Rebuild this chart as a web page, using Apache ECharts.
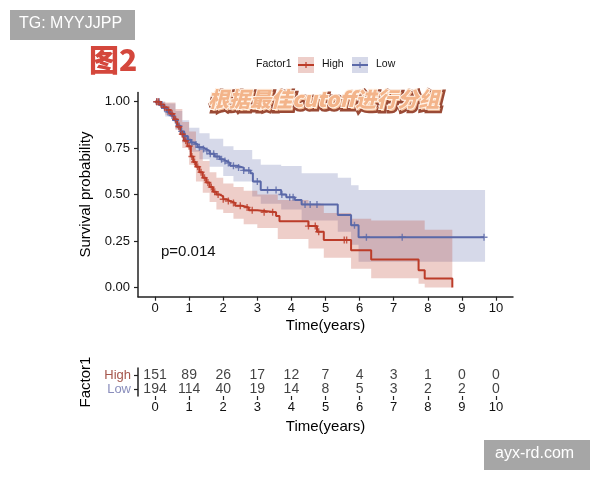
<!DOCTYPE html>
<html><head><meta charset="utf-8">
<script src="https://cdn.jsdelivr.net/npm/echarts@6/dist/echarts.min.js"></script>
<style>html,body{margin:0;padding:0;background:#fff}#c{width:600px;height:480px}</style>
</head><body><div id="c"></div>
<script>
const xTicks = [0,1,2,3,4,5,6,7,8,9,10];
const yTicks = [0, 0.25, 0.5, 0.75, 1.0];
const groups = ['Low', 'High'];

const highTime = [0,0.15,0.25,0.35,0.45,0.55,0.65,0.75,0.85,0.95,1.05,1.12,1.2,1.3,1.4,1.5,1.6,1.7,1.8,1.9,2.0,2.1,2.2,2.35,2.55,2.75,3.0,3.55,3.65,4.5,4.75,4.95,5.75,6.34,7.73,7.91,8.72];
const highSurv = [1.0,0.985,0.97,0.955,0.935,0.905,0.865,0.825,0.79,0.76,0.705,0.675,0.65,0.62,0.59,0.565,0.54,0.515,0.5,0.49,0.475,0.465,0.455,0.44,0.43,0.415,0.405,0.385,0.356,0.33,0.30,0.255,0.20,0.15,0.093,0.048,0.0];

const lowTime = [0,0.15,0.25,0.35,0.45,0.55,0.65,0.75,0.85,0.95,1.05,1.15,1.25,1.4,1.5,1.6,1.75,1.9,2.0,2.1,2.2,2.4,2.6,2.8,2.87,3.1,3.7,3.85,4.1,4.3,5.36,5.75,5.97,9.65];
const lowSurv = [1.0,0.98,0.965,0.945,0.925,0.9,0.87,0.84,0.815,0.795,0.78,0.77,0.755,0.745,0.735,0.72,0.705,0.69,0.68,0.67,0.655,0.645,0.63,0.615,0.57,0.525,0.50,0.485,0.47,0.447,0.39,0.335,0.27,0.27];

const highBandTime = [0,0.3,0.6,0.8,1.0,1.2,1.4,1.6,1.8,2.0,2.3,2.6,3.0,3.6,4.5,4.95,5.75,6.34,7.73,7.91,8.72];
const highLower = [0.985,0.93,0.85,0.75,0.66,0.57,0.51,0.46,0.42,0.40,0.37,0.34,0.32,0.26,0.21,0.16,0.10,0.05,0.02,0.0,0.0];
const highUpper = [1.0,0.995,0.96,0.89,0.84,0.74,0.68,0.62,0.59,0.56,0.54,0.52,0.50,0.47,0.45,0.40,0.37,0.36,0.36,0.31,0.31];

const lowBandTime = [0,0.3,0.6,0.8,1.0,1.3,1.6,2.0,2.3,2.85,3.1,3.7,4.3,5.36,5.75,5.97,9.68];
const lowLower = [0.985,0.92,0.85,0.78,0.73,0.69,0.65,0.60,0.57,0.49,0.45,0.42,0.36,0.30,0.23,0.138,0.138];
const lowUpper = [1.0,0.99,0.95,0.90,0.86,0.83,0.80,0.76,0.74,0.69,0.66,0.654,0.615,0.59,0.55,0.524,0.524];

const highCensor = [0.05,0.1,0.18,0.28,0.4,0.5,0.6,0.7,0.8,0.9,1.0,1.08,1.16,1.25,1.35,1.45,1.55,1.65,1.75,1.85,2.0,2.15,2.3,2.5,2.7,2.85,3.2,3.45,4.5,4.7,4.8,5.55,5.62];
const lowCensor = [0.05,0.12,0.2,0.28,0.38,0.5,0.6,0.7,0.78,0.88,0.98,1.08,1.2,1.3,1.42,1.52,1.62,1.72,1.82,1.95,2.05,2.15,2.3,2.45,2.6,2.75,3.0,3.3,3.55,3.72,3.95,4.05,4.4,4.55,4.75,5.85,6.2,7.25,9.65];

const riskTimes = [0,1,2,3,4,5,6,7,8,9,10];
const highRisk = [151,89,26,17,12,7,4,3,1,0,0];
const lowRisk = [194,114,40,19,14,8,5,3,2,2,0];

const highColor = '#BC3C29';
const lowColor = '#5A68A8';

function pairs(t, v) { return t.map((x, i) => [x, v[i]]); }
function stepAt(t, T, S) { let s = S[0]; for (let i = 0; i < T.length; i++) { if (T[i] <= t) s = S[i]; } return s; }
const plusPath = 'path://M4,0h2v4h4v2h-4v4h-2v-4h-4v-2h4z';

function bandSeries(T, lo, up, color) {
  return {
    type: 'custom', xAxisIndex: 0, yAxisIndex: 0, silent: true, z: 1,
    data: T.map((t, i) => [t, lo[i], up[i]]),
    encode: {x: 0, y: [1, 2]},
    renderItem: function (params, api) {
      if (params.dataIndex !== 0) return null;
      const n = T.length;
      const pts = [];
      for (let i = 0; i < n; i++) {
        pts.push(api.coord([T[i], up[i]]));
        if (i < n - 1) pts.push(api.coord([T[i + 1], up[i]]));
      }
      for (let i = n - 1; i >= 0; i--) {
        if (i < n - 1) pts.push(api.coord([T[i + 1], lo[i]]));
        pts.push(api.coord([T[i], lo[i]]));
      }
      return {type: 'polygon', shape: {points: pts}, style: {fill: color, opacity: 0.25}};
    }
  };
}

const chart = echarts.init(document.getElementById('c'), null, {renderer: 'canvas'});
const axisCol = '#222';
const font = 'Liberation Sans, Arial, sans-serif';

function xAxisDef(grid, gap) {
  return {gridIndex: grid, type: 'value', min: -0.5, max: 10.5,
     name: 'Time(years)', nameLocation: 'middle', nameGap: gap,
     nameTextStyle: {fontSize: 15, color: '#000', fontFamily: font},
     axisLine: {onZero: false, lineStyle: {color: axisCol, width: 1.5}},
     axisTick: {show: true, length: 4, lineStyle: {color: axisCol, width: 1.2}, customValues: xTicks},
     axisLabel: {fontSize: 13, color: '#111', margin: 5, customValues: xTicks},
     splitLine: {show: false}};
}

const option = {
  animation: false,
  textStyle: {fontFamily: font},
  grid: [
    {left: 138, right: 87, top: 92.4, bottom: 183.3},
    {left: 138, right: 87, top: 368, bottom: 84}
  ],
  xAxis: [xAxisDef(0, 22), xAxisDef(1, 23)],
  yAxis: [
    {gridIndex: 0, type: 'value', min: -0.05, max: 1.05,
     name: 'Survival probability', nameLocation: 'middle', nameGap: 37,
     nameTextStyle: {fontSize: 15, color: '#000', fontFamily: font},
     axisLine: {show: true, onZero: false, lineStyle: {color: axisCol, width: 1.5}},
     axisTick: {show: true, length: 4, lineStyle: {color: axisCol, width: 1.2}, customValues: yTicks},
     axisLabel: {fontSize: 13, color: '#111', margin: 8, customValues: yTicks, formatter: v => v.toFixed(2)},
     splitLine: {show: false}},
    {gridIndex: 1, type: 'category', data: groups,
     name: 'Factor1', nameLocation: 'middle', nameGap: 37,
     nameTextStyle: {fontSize: 15, color: '#000', fontFamily: font},
     axisLine: {show: true, onZero: false, lineStyle: {color: axisCol, width: 1.5}},
     axisTick: {show: true, length: 4, alignWithLabel: true, interval: 0, lineStyle: {color: axisCol, width: 1.2}},
     axisLabel: {fontSize: 13, margin: 7, interval: 0, formatter: v => '{' + v + '|' + v + '}',
       rich: {High: {color: '#A5564C', fontSize: 13}, Low: {color: '#8A8EBC', fontSize: 13}}},
     splitLine: {show: false}}
  ],
  series: [
    bandSeries(lowBandTime, lowLower, lowUpper, lowColor),
    bandSeries(highBandTime, highLower, highUpper, highColor),
    {type: 'line', name: 'Low', xAxisIndex: 0, yAxisIndex: 0, step: 'end', symbol: 'none',
     lineStyle: {color: lowColor, width: 2}, data: pairs(lowTime, lowSurv), z: 3},
    {type: 'line', name: 'High', xAxisIndex: 0, yAxisIndex: 0, step: 'end', symbol: 'none',
     lineStyle: {color: highColor, width: 2}, data: pairs(highTime, highSurv), z: 4},
    {type: 'scatter', name: 'LowCensor', xAxisIndex: 0, yAxisIndex: 0, symbol: plusPath, symbolSize: 7,
     itemStyle: {color: lowColor}, data: lowCensor.map(t => [t, stepAt(t, lowTime, lowSurv)]), z: 5},
    {type: 'scatter', name: 'HighCensor', xAxisIndex: 0, yAxisIndex: 0, symbol: plusPath, symbolSize: 7,
     itemStyle: {color: highColor}, data: highCensor.map(t => [t, stepAt(t, highTime, highSurv)]), z: 6},
    {type: 'scatter', name: 'riskHigh', xAxisIndex: 1, yAxisIndex: 1, symbolSize: 0,
     label: {show: true, position: 'inside', formatter: p => String(p.value[2]), fontSize: 14, color: '#111', fontFamily: font},
     data: riskTimes.map((t, i) => [t, 1, highRisk[i]])},
    {type: 'scatter', name: 'riskLow', xAxisIndex: 1, yAxisIndex: 1, symbolSize: 0,
     label: {show: true, position: 'inside', formatter: p => String(p.value[2]), fontSize: 14, color: '#111', fontFamily: font},
     data: riskTimes.map((t, i) => [t, 0, lowRisk[i]])}
  ],
  graphic: [
    {type: 'rect', left: 10, top: 10, shape: {width: 125, height: 30}, style: {fill: '#a6a6a6'}},
    {type: 'text', left: 19, top: 16, style: {text: 'TG: MYYJJPP', fill: '#fff', fontSize: 16, fontFamily: font}},
    {type: 'rect', left: 484, top: 440, shape: {width: 106, height: 30}, style: {fill: '#a6a6a6'}},
    {type: 'text', left: 495, top: 446, style: {text: 'ayx-rd.com', fill: '#fff', fontSize: 16, fontFamily: font}},
    {type: 'text', left: 89, top: 45, style: {text: '图2', fill: '#d4473c', fontSize: 30, fontWeight: 900, fontFamily: 'Noto Sans CJK SC'}},
    {type: 'text', left: 207, top: 88, z: 10, style: {text: '根据最佳cutoff进行分组', fill: '#f6c29c', stroke: '#9a4a35', lineWidth: 5,
      fontSize: 21, fontWeight: 900, fontStyle: 'italic', fontFamily: 'Noto Sans CJK SC'}},
    {type: 'text', left: 207, top: 88, z: 11, style: {text: '根据最佳cutoff进行分组', fill: '#f3b48a', stroke: '#fff4ea', lineWidth: 2,
      fontSize: 21, fontWeight: 900, fontStyle: 'italic', fontFamily: 'Noto Sans CJK SC'}},
    {type: 'text', left: 256, top: 59, style: {text: 'Factor1', fill: '#111', fontSize: 10.5, fontFamily: font}},
    {type: 'rect', left: 298, top: 57, shape: {width: 16, height: 16}, style: {fill: 'rgba(188,60,41,0.25)'}},
    {type: 'line', shape: {x1: 298, y1: 65, x2: 314, y2: 65}, style: {stroke: highColor, lineWidth: 2}},
    {type: 'line', shape: {x1: 306, y1: 62, x2: 306, y2: 68}, style: {stroke: highColor, lineWidth: 1.2}},
    {type: 'text', left: 322, top: 59, style: {text: 'High', fill: '#111', fontSize: 10.5, fontFamily: font}},
    {type: 'rect', left: 352, top: 57, shape: {width: 16, height: 16}, style: {fill: 'rgba(90,104,168,0.25)'}},
    {type: 'line', shape: {x1: 352, y1: 65, x2: 368, y2: 65}, style: {stroke: lowColor, lineWidth: 2}},
    {type: 'line', shape: {x1: 360, y1: 62, x2: 360, y2: 68}, style: {stroke: lowColor, lineWidth: 1.2}},
    {type: 'text', left: 376, top: 59, style: {text: 'Low', fill: '#111', fontSize: 10.5, fontFamily: font}},
    {type: 'text', left: 161, top: 244, style: {text: 'p=0.014', fill: '#111', fontSize: 15, fontFamily: font}}
  ]
};
chart.setOption(option);
</script>
</body></html>
